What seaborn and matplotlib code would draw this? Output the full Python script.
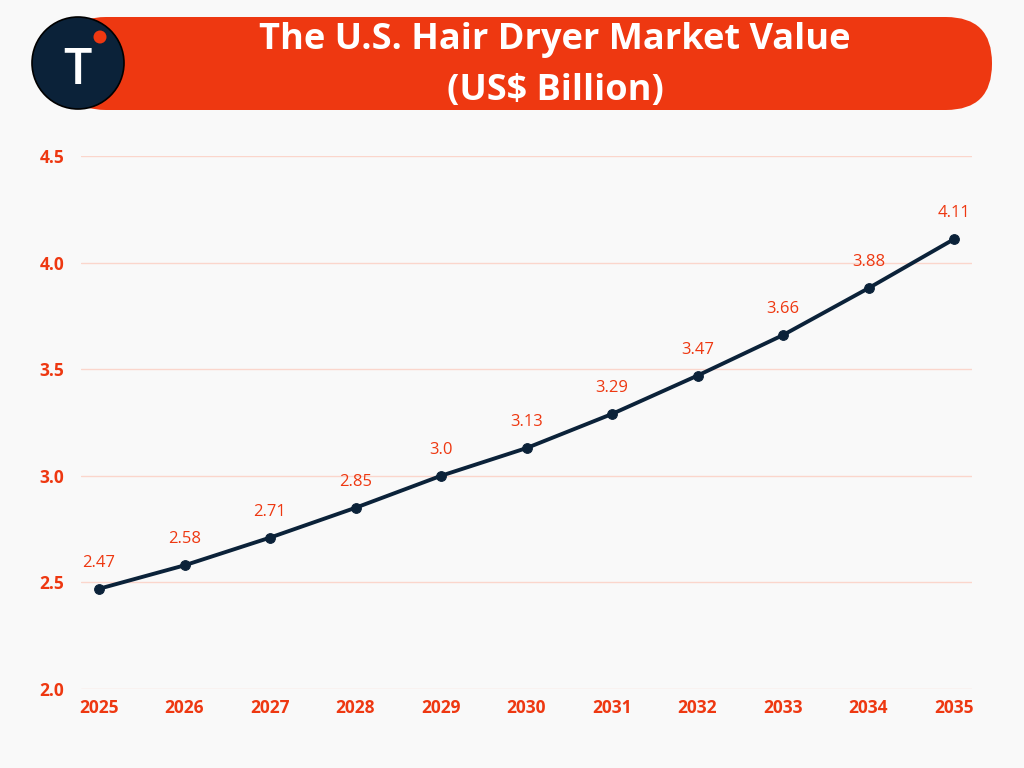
import pandas as pd
import seaborn as sns
import matplotlib.pyplot as plt
from matplotlib.patches import FancyBboxPatch, Circle

years = [2025, 2026, 2027, 2028, 2029, 2030, 2031, 2032, 2033, 2034, 2035]
values = [2.47, 2.58, 2.71, 2.85, 3.0, 3.13, 3.29, 3.47, 3.66, 3.88, 4.11]
labels = ['2.47', '2.58', '2.71', '2.85', '3.0', '3.13', '3.29', '3.47', '3.66', '3.88', '4.11']
yticks = [2.0, 2.5, 3.0, 3.5, 4.0, 4.5]

RED = '#ee3811'
NAVY = '#0b2239'
BG = '#f9f9f9'
W, H = 1024, 768

sns.set_theme(style="white")
plt.rcParams['font.family'] = ['Open Sans', 'DejaVu Sans']

df = pd.DataFrame({'Year': years, 'Value': values})

fig = plt.figure(figsize=(W / 100, H / 100), dpi=100, facecolor=BG)
ax = fig.add_axes([81 / W, 1 - 689 / H, (972 - 81) / W, (689 - 156) / H])
ax.set_facecolor(BG)

sns.lineplot(data=df, x='Year', y='Value', ax=ax, color=NAVY, linewidth=2.8,
             marker='o', markersize=7, markeredgecolor=NAVY, zorder=3)

for x, y, t in zip(years, values, labels):
    ax.annotate(t, (x, y), xytext=(0, 13), textcoords='offset points',
                ha='center', va='bottom', color=RED, fontsize=12)

ax.set_xlim(2025 - 18 / 85.5, 2035 + 18 / 85.5)
ax.set_ylim(2.0, 4.5)
ax.set_xticks(years)
ax.set_yticks(yticks)
ax.set_yticklabels([f'{v:.1f}' for v in yticks])
ax.tick_params(axis='both', length=0, labelcolor=RED, labelsize=12.5)
ax.tick_params(axis='x', pad=7)
ax.tick_params(axis='y', pad=12)
for lab in ax.get_xticklabels() + ax.get_yticklabels():
    lab.set_fontweight('bold')
ax.grid(axis='y', color='#fbd6cc', linewidth=1)
ax.set_axisbelow(True)
ax.set_xlabel('')
ax.set_ylabel('')
sns.despine(ax=ax, left=True, bottom=True)

# header drawn in pixel coordinates
hdr = fig.add_axes([0, 0, 1, 1], zorder=5)
hdr.set_xlim(0, W)
hdr.set_ylim(H, 0)
hdr.axis('off')
hdr.patch.set_alpha(0)
hdr.add_patch(FancyBboxPatch((60, 17), 992 - 60, 93,
                             boxstyle='round,pad=0,rounding_size=46',
                             facecolor=RED, edgecolor='none'))
hdr.add_patch(Circle((78, 63), 46, facecolor=NAVY, edgecolor='black', linewidth=1.2))
hdr.add_patch(Circle((100, 37), 6.5, facecolor=RED, edgecolor='none'))
hdr.text(77, 65, 'T', color='white', fontsize=36, ha='center', va='center_baseline',
         fontweight='semibold')

hdr.text(555, 40, 'The U.S. Hair Dryer Market Value', color='white',
         fontsize=26, fontweight='bold', ha='center', va='center')
hdr.text(555, 91, '(US$ Billion)', color='white',
         fontsize=26, fontweight='bold', ha='center', va='center')

fig.savefig('out.png', dpi=100, facecolor=BG)
